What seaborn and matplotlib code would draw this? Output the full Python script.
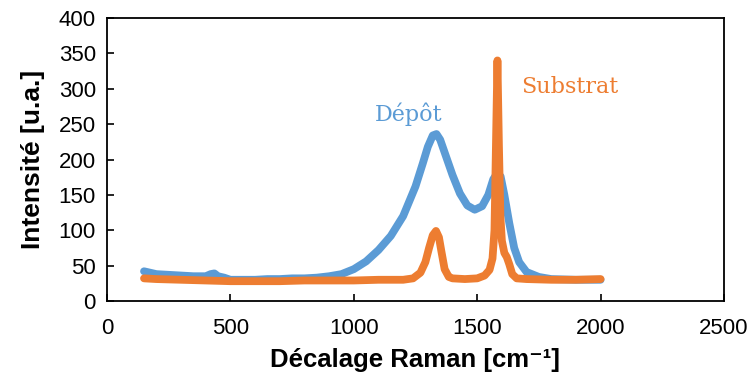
import matplotlib
matplotlib.use("Agg")
import matplotlib.pyplot as plt
import seaborn as sns
import pandas as pd

# Dépôt (blue) spectrum
depot_x = [150, 175, 200, 250, 300, 350, 400, 420, 435, 450, 475, 500, 550, 600, 650, 700, 750, 800, 850,
           900, 950, 1000, 1050, 1100, 1150, 1200, 1250, 1280, 1300, 1320, 1335, 1350, 1370, 1400, 1430,
           1460, 1490, 1520, 1545, 1565, 1580, 1595, 1610, 1630, 1650, 1670, 1700, 1750, 1800, 1900, 2000]
depot_y = [42, 40, 38, 37, 36, 35, 35, 38, 39, 35, 33, 30, 30, 30, 31, 31, 32, 32, 33,
           35, 38, 45, 56, 72, 92, 120, 162, 195, 218, 234, 236, 228, 208, 178, 152,
           135, 129, 134, 150, 172, 180, 176, 150, 110, 75, 55, 41, 34, 31, 30, 30]

# Substrat (orange) spectrum
substrat_x = [150, 200, 300, 400, 500, 600, 700, 800, 900, 1000, 1100, 1200, 1240, 1270, 1290, 1305,
              1320, 1333, 1345, 1355, 1368, 1385, 1400, 1450, 1500, 1530, 1550, 1562, 1570, 1576, 1582,
              1588, 1594, 1600, 1610, 1620, 1630, 1642, 1660, 1700, 1800, 1900, 2000]
substrat_y = [32, 31, 30, 29, 28, 28, 28, 29, 29, 29, 30, 30, 32, 40, 55, 75, 93, 99, 90, 70, 45, 34,
              32, 31, 32, 36, 44, 60, 100, 220, 340, 220, 120, 85, 68, 62, 52, 38, 32, 31, 30, 30, 31]

xticks = [0, 500, 1000, 1500, 2000, 2500]
yticks = [0, 50, 100, 150, 200, 250, 300, 350, 400]

blue = "#5B9BD5"
orange = "#ED7D31"

df = pd.concat([
    pd.DataFrame({"x": depot_x, "y": depot_y, "serie": "Dépôt"}),
    pd.DataFrame({"x": substrat_x, "y": substrat_y, "serie": "Substrat"}),
])

sns.set_theme(style="white")
plt.rcParams["font.family"] = ["Liberation Sans", "DejaVu Sans"]
plt.rcParams["text.color"] = "black"
plt.rcParams["axes.labelcolor"] = "black"

fig = plt.figure(figsize=(7.54, 3.85), dpi=100)
ax = fig.add_axes([107 / 754, 1 - 301 / 385, (724 - 107) / 754, (301 - 18) / 385])

sns.lineplot(data=df, x="x", y="y", hue="serie", palette={"Dépôt": blue, "Substrat": orange},
             sort=False, estimator=None, linewidth=5.6, legend=False, ax=ax,
             solid_capstyle="round", solid_joinstyle="round")

ax.set_xlim(0, 2500)
ax.set_ylim(0, 400)
ax.set_xticks(xticks)
ax.set_yticks(yticks)
ax.set_xticklabels([str(t) for t in xticks], fontsize=16)
ax.set_yticklabels([str(t) for t in yticks], fontsize=16)
ax.tick_params(axis="both", direction="in", length=5, width=1.2, colors="black",
               labelcolor="black", bottom=True, left=True, top=False, right=False)
ax.tick_params(axis="x", pad=12)
ax.tick_params(axis="y", pad=8)
for s in ax.spines.values():
    s.set_visible(True)
    s.set_color("black")
    s.set_linewidth(1.3)

ax.set_xlabel("Décalage Raman [cm⁻¹]", fontsize=18.5, fontweight="bold", labelpad=7, color="black")
ax.set_ylabel("Intensité [u.a.]", fontsize=19, fontweight="bold", labelpad=10, color="black")

ax.text(1086, 254, "Dépôt", color=blue, fontsize=16, family="DejaVu Serif", ha="left", va="baseline")
ax.text(1680, 294, "Substrat", color=orange, fontsize=16, family="DejaVu Serif", ha="left", va="baseline")

fig.savefig("out.png", dpi=100)
